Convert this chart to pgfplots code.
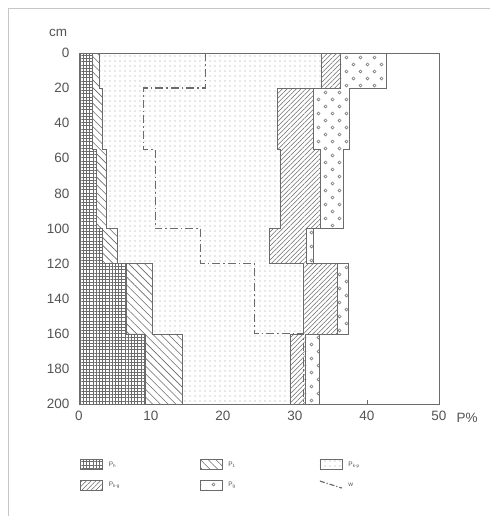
\documentclass[border=0pt]{standalone}
\usepackage{fontspec}
\setmainfont{Liberation Sans}
\usepackage{pgfplots}
\pgfplotsset{compat=1.18}
\usetikzlibrary{patterns,patterns.meta}
\definecolor{ink}{gray}{0.42}
\definecolor{txt}{gray}{0.33}
\pgfdeclarepatternformonly{smallcircles}{\pgfqpoint{-1pt}{-1pt}}{\pgfqpoint{15pt}{15pt}}{\pgfqpoint{14pt}{14pt}}{%
  \pgfsetlinewidth{0.5pt}%
  \pgfpathcircle{\pgfqpoint{3.5pt}{3.5pt}}{1.6pt}%
  \pgfpathcircle{\pgfqpoint{10.5pt}{10.5pt}}{1.6pt}%
  \pgfusepath{stroke}}
\tikzset{
  Ph/.style={draw=ink, line width=0.5pt, fill=white, postaction={pattern={Hatch[angle=0,distance=3.2pt,line width=0.3pt]}, pattern color=ink}},
  P1/.style={draw=ink, line width=0.5pt, fill=white, postaction={pattern={Lines[angle=-45,distance=5.5pt,line width=0.6pt]}, pattern color=ink}},
  Pkp/.style={draw=ink, line width=0.5pt, fill=white, postaction={pattern={Dots[distance=5pt,radius=0.6pt]}, pattern color=gray!75}},
  Pkg/.style={draw=ink, line width=0.5pt, fill=white, postaction={pattern={Lines[angle=45,distance=3.3pt,line width=0.5pt]}, pattern color=ink}},
  Pg/.style={draw=ink, line width=0.5pt, fill=white, postaction={pattern=smallcircles, pattern color=ink}},
}
\begin{document}
\begin{tikzpicture}
\path[use as bounding box] (0,0) rectangle (490pt,516pt);
\draw[gray!45, line width=0.6pt] (8pt,0pt) -- (8pt,508pt) -- (490pt,508pt);
\begin{axis}[
  at={(79pt,112pt)}, anchor=south west,
  scale only axis, width=360pt, height=351pt,
  xmin=0, xmax=50, ymin=0, ymax=200, y dir=reverse,
  axis line style={ink, line width=0.7pt},
  xtick={0,10,...,50}, ytick={0,20,...,200},
  tick align=inside, major tick length=4pt,
  xtick style={ink, line width=0.6pt},
  ytick style={draw=none},
  ticklabel style={font=\fontsize{13.5}{15}\selectfont, text=txt},
  /pgf/number format/assume math mode=true,
  yticklabel style={xshift=-6pt},
  xticklabel style={yshift=-4pt},
  legend columns=3,
  legend style={draw=none, fill=none, inner sep=0pt, at={(0.003,-0.157)}, anchor=north west,
    font=\fontsize{6.5}{7.5}\selectfont, text=txt,
    nodes={text width=85pt, inner sep=2pt, anchor=west},
    column sep=4pt, row sep=10pt},
  legend cell align=left,
  legend image code/.code={\draw[#1] (0pt,-5pt) rectangle (22pt,5pt);},
]
\addlegendimage{Ph}\addlegendentry{P\textsubscript{h}}
\addlegendimage{P1}\addlegendentry{P\textsubscript{1}}
\addlegendimage{Pkp}\addlegendentry{P\textsubscript{k-p}}
\addlegendimage{Pkg}\addlegendentry{P\textsubscript{k-g}}
\addlegendimage{Pg}\addlegendentry{P\textsubscript{g}}
\addlegendimage{legend image code/.code={\draw[ink, line width=1.2pt, dash pattern=on 5pt off 2pt on 1.2pt off 2pt] (0pt,4pt) -- (22pt,-3pt);}}\addlegendentry{w}

% cumulative profiles (P%), depth steps 0-20-55-100-120-160-200 cm
\addplot[Pg, forget plot] coordinates {(0,0) (42.7,0) (42.7,20) (37.6,20) (37.6,55) (36.7,55) (36.7,100) (32.6,100) (32.6,120) (37.4,120) (37.4,160) (33.3,160) (33.3,200) (0,200)} -- cycle;
\addplot[Pkg, forget plot] coordinates {(0,0) (36.25,0) (36.25,20) (32.5,20) (32.5,55) (33.5,55) (33.5,100) (31.5,100) (31.5,120) (35.9,120) (35.9,160) (31.4,160) (31.4,200) (0,200)} -- cycle;
\addplot[Pkp, forget plot] coordinates {(0,0) (33.6,0) (33.6,20) (27.5,20) (27.5,55) (27.9,55) (27.9,100) (26.4,100) (26.4,120) (31.2,120) (31.2,160) (29.3,160) (29.3,200) (0,200)} -- cycle;
\addplot[P1, forget plot] coordinates {(0,0) (2.8,0) (2.8,20) (3.2,20) (3.2,55) (3.75,55) (3.75,100) (5.3,100) (5.3,120) (10.2,120) (10.2,160) (14.3,160) (14.3,200) (0,200)} -- cycle;
\addplot[Ph, forget plot] coordinates {(0,0) (1.9,0) (1.9,20) (1.9,20) (1.9,55) (2.45,55) (2.45,100) (3.2,100) (3.2,120) (6.5,120) (6.5,160) (9.2,160) (9.2,200) (0,200)} -- cycle;
\addplot[ink, line width=1.3pt, dash pattern=on 8pt off 3pt on 1.5pt off 3pt, forget plot] coordinates {(17.6,0) (17.6,20) (9.0,20) (9.0,55) (10.6,55) (10.6,100) (16.9,100) (16.9,120) (24.4,120) (24.4,160) (31.2,160) (31.2,200)};
\end{axis}
\node[text=txt, font=\fontsize{13.5}{15}\selectfont] at (58pt,483pt) {cm};
\node[text=txt, font=\fontsize{13.5}{15}\selectfont, anchor=base west] at (453pt,93pt) {P\%};
\end{tikzpicture}
\end{document}
